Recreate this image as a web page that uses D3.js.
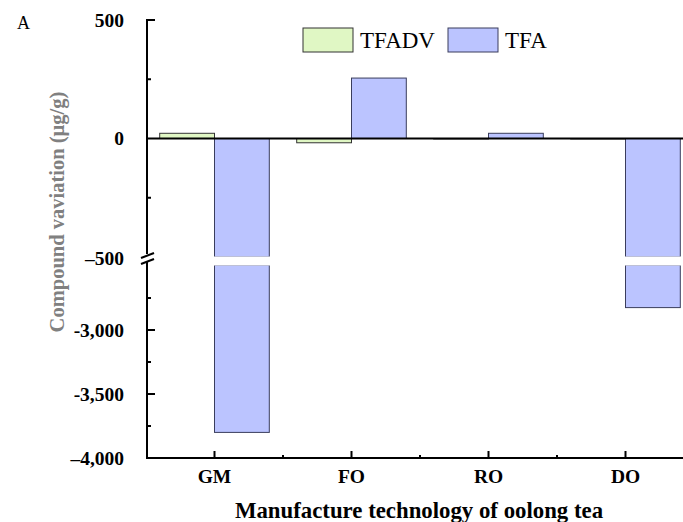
<!DOCTYPE html>
<html>
<head>
<meta charset="utf-8">
<script src="https://cdn.jsdelivr.net/npm/d3@7"></script>
<style>
  html, body { margin: 0; padding: 0; background: #fff; }
  svg { display: block; font-family: "Liberation Serif", "Times New Roman", serif; }
</style>
</head>
<body>
<svg id="chart" width="683" height="522"></svg>
<script>
// Manufacturing steps and the two compound series (µg/g)
const categories = ["GM", "FO", "RO", "DO"];
const seriesNames = ["TFADV", "TFA"];
const tfadv = [22, -18, -2, -2];
const tfa = [-3800, 255, 22, -2825];
const seriesColors = ["#e0f7c4", "#bbc4ff"];
const seriesStrokes = ["#333333", "#3a3d5c"];

// Broken y axis: an upper and a lower segment
const upperDomain = [-500, 500];
const lowerDomain = [-4000, -2500];
const upperMajor = [0, 500];
const upperMinor = [250, -250];
const lowerMajor = [-3000, -3500, -4000];
const lowerMinor = [-2750, -3250, -3750];
const tickLabels = new Map([
  [500, "500"], [0, "0"], [-500, "\u2013500"],
  [-3000, "-3,000"], [-3500, "-3,500"], [-4000, "\u20134,000"]
]);

const svg = d3.select("#chart");
const font = '"Liberation Serif", "Times New Roman", serif';

const x0 = d3.scaleBand().domain(categories).range([146, 694]).paddingInner(0.2).paddingOuter(0.1);
const x1 = d3.scaleBand().domain(seriesNames).range([0, x0.bandwidth()]);
const yTop = d3.scaleLinear().domain(upperDomain).range([257, 20]);
const yBot = d3.scaleLinear().domain(lowerDomain).range([458, 266]);

const axisX = 147;
const baseY = yBot(lowerDomain[0]);

const rows = categories.map((c, i) => ({ cat: c, values: [tfadv[i], tfa[i]] }));

// Bars, split over the two segments
const groups = svg.append("g").selectAll("g").data(rows).join("g")
  .attr("transform", d => `translate(${x0(d.cat)},0)`);

groups.each(function(d) {
  const g = d3.select(this);
  d.values.forEach((v, k) => {
    const xs = x1(seriesNames[k]);
    const w = x1.bandwidth();
    // upper segment
    const hiU = Math.min(Math.max(v, 0), upperDomain[1]);
    const loU = Math.max(Math.min(v, 0), upperDomain[0]);
    if (hiU !== loU) {
      g.append("rect")
        .attr("x", xs).attr("width", w)
        .attr("y", yTop(hiU)).attr("height", yTop(loU) - yTop(hiU))
        .attr("fill", seriesColors[k])
        .attr("stroke", seriesStrokes[k]).attr("stroke-width", 1);
    }
    // lower segment
    if (v < lowerDomain[1]) {
      const lo = Math.max(v, lowerDomain[0]);
      g.append("rect")
        .attr("x", xs).attr("width", w)
        .attr("y", yBot(lowerDomain[1]) - 1).attr("height", yBot(lo) - yBot(lowerDomain[1]) + 1)
        .attr("fill", seriesColors[k])
        .attr("stroke", seriesStrokes[k]).attr("stroke-width", 1);
    }
  });
});

// Cover the open ends of bars crossing the break
svg.append("rect").attr("x", axisX + 2).attr("y", yTop(upperDomain[0]) - 0.5)
  .attr("width", 683).attr("height", yBot(lowerDomain[1]) - yTop(upperDomain[0]))
  .attr("fill", "#fff");

// Zero line
svg.append("line")
  .attr("x1", axisX).attr("x2", 683)
  .attr("y1", yTop(0)).attr("y2", yTop(0))
  .attr("stroke", "#000").attr("stroke-width", 2);

// Y axis segments
const yAxisG = svg.append("g");
yAxisG.append("line").attr("x1", axisX).attr("x2", axisX)
  .attr("y1", yTop(upperDomain[1]) - 1).attr("y2", yTop(upperDomain[0]) - 3)
  .attr("stroke", "#000").attr("stroke-width", 2);
yAxisG.append("line").attr("x1", axisX).attr("x2", axisX)
  .attr("y1", yTop(upperDomain[0]) + 5).attr("y2", baseY + 1)
  .attr("stroke", "#000").attr("stroke-width", 2);

// break marks
[0, 6].forEach(off => {
  yAxisG.append("line")
    .attr("x1", axisX - 6).attr("y1", yTop(upperDomain[0]) + 1 + off)
    .attr("x2", axisX + 7).attr("y2", yTop(upperDomain[0]) - 4 + off)
    .attr("stroke", "#000").attr("stroke-width", 2);
});

function ticks(scale, vals, len) {
  yAxisG.selectAll(null).data(vals).join("line")
    .attr("x1", axisX).attr("x2", axisX + len)
    .attr("y1", d => scale(d)).attr("y2", d => scale(d))
    .attr("stroke", "#000").attr("stroke-width", 2);
}
ticks(yTop, [500], 8);
ticks(yTop, upperMinor, 4);
ticks(yBot, lowerMajor.filter(v => v !== lowerDomain[0]), 8);
ticks(yBot, lowerMinor, 4);

const labelVals = [
  ...upperMajor.map(v => [v, yTop(v)]),
  [-500, yTop(-500) + 1],
  ...lowerMajor.map(v => [v, yBot(v)])
];
yAxisG.selectAll(null).data(labelVals).join("text")
  .attr("x", 124).attr("y", d => d[1]).attr("dy", "0.34em")
  .attr("text-anchor", "end")
  .attr("font-family", font).attr("font-weight", "bold").attr("font-size", 19.5)
  .attr("fill", "#000")
  .text(d => tickLabels.get(d[0]));

// X axis
const xAxisG = svg.append("g");
xAxisG.append("line").attr("x1", axisX - 1).attr("x2", 683)
  .attr("y1", baseY).attr("y2", baseY)
  .attr("stroke", "#000").attr("stroke-width", 2);
const centers = categories.map(c => x0(c) + x0.bandwidth() / 2);
const bounds = categories.slice(1).map((c, i) => (centers[i] + centers[i + 1]) / 2);
xAxisG.selectAll(null).data(centers).join("line")
  .attr("x1", d => d).attr("x2", d => d)
  .attr("y1", baseY).attr("y2", baseY - 7)
  .attr("stroke", "#000").attr("stroke-width", 2);
xAxisG.selectAll(null).data(bounds).join("line")
  .attr("x1", d => d).attr("x2", d => d)
  .attr("y1", baseY).attr("y2", baseY - 3)
  .attr("stroke", "#000").attr("stroke-width", 2);
xAxisG.selectAll(null).data(categories).join("text")
  .attr("x", d => x0(d) + x0.bandwidth() / 2).attr("y", 483)
  .attr("text-anchor", "middle")
  .attr("font-family", font).attr("font-weight", "bold").attr("font-size", 19.5)
  .text(d => d);

// Axis titles
svg.append("text")
  .attr("x", 419).attr("y", 518)
  .attr("text-anchor", "middle")
  .attr("font-family", font).attr("font-weight", "bold").attr("font-size", 22.8)
  .text("Manufacture technology of oolong tea");

svg.append("text")
  .attr("transform", "translate(64,212) rotate(-90)")
  .attr("text-anchor", "middle")
  .attr("font-family", font).attr("font-weight", "bold").attr("font-size", 20.5)
  .attr("fill", "#808080")
  .text("Compound vaviation (\u00b5g/g)");

// Panel letter
svg.append("text").attr("x", 17).attr("y", 29)
  .attr("font-family", font).attr("font-size", 18).text("A");

// Legend
const legendX = [303, 448];
const legend = svg.append("g").selectAll("g").data(seriesNames).join("g")
  .attr("transform", (d, i) => `translate(${legendX[i]},28)`);
legend.append("rect").attr("width", 50).attr("height", 24)
  .attr("fill", (d, i) => seriesColors[i]).attr("stroke", (d, i) => seriesStrokes[i]).attr("stroke-width", 1);
legend.append("text").attr("x", 57).attr("y", 20)
  .attr("font-family", font).attr("font-size", 23)
  .text(d => d);
</script>
</body>
</html>
